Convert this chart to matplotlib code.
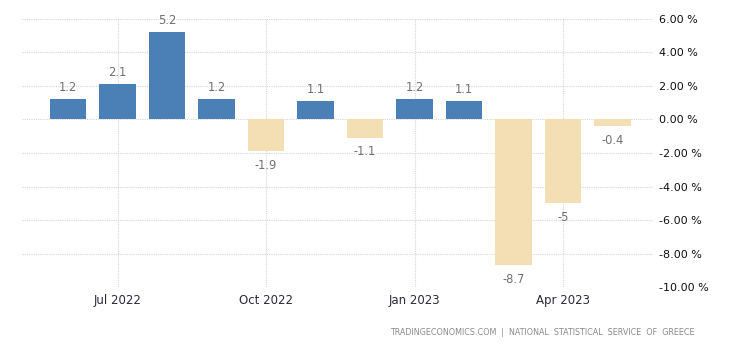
import numpy as np
import matplotlib
matplotlib.use('Agg')
import matplotlib.pyplot as plt

meses = ['Jun 2022', 'Jul 2022', 'Aug 2022', 'Sep 2022', 'Oct 2022', 'Nov 2022',
         'Dec 2022', 'Jan 2023', 'Feb 2023', 'Mar 2023', 'Apr 2023', 'May 2023']
valores = [1.2, 2.1, 5.2, 1.2, -1.9, 1.1, -1.1, 1.2, 1.1, -8.7, -5, -0.4]
rotulos_x = ['Jul 2022', 'Oct 2022', 'Jan 2023', 'Apr 2023']
ticks_y = [6, 4, 2, 0, -2, -4, -6, -8, -10]

cor_positivo = '#4a80b5'
cor_negativo = '#f4dfb4'

plt.rcParams['font.family'] = ['DejaVu Sans']

fig = plt.figure(figsize=(7.4, 3.45), dpi=100)
ax = fig.add_axes([0.0297, 0.168, 0.853, 0.777])

posicoes = np.arange(len(valores))
cores = [cor_positivo if v >= 0 else cor_negativo for v in valores]
ax.bar(posicoes, valores, width=0.74, color=cores, zorder=3)

# rotulo de valor acima (positivos) ou abaixo (negativos) de cada barra
for x, v in zip(posicoes, valores):
    texto = f'{v:g}'
    if v >= 0:
        ax.text(x, v + 0.3, texto, ha='center', va='bottom', fontsize=8.3, color='#707070')
    else:
        ax.text(x, v - 0.45, texto, ha='center', va='top', fontsize=8.3, color='#707070')

ax.set_xlim(-0.93, 11.82)
ax.set_ylim(-10, 6)

ax.set_xticks([posicoes[meses.index(r)] for r in rotulos_x])
ax.set_xticklabels(rotulos_x, fontsize=8.5, color='#2a2a3a')
ax.set_yticks(ticks_y)
ax.set_yticklabels([f'{t:.2f} %' for t in ticks_y], fontsize=8, color='#111111')
ax.yaxis.tick_right()
ax.tick_params(axis='both', length=0)
ax.tick_params(axis='y', pad=4)
ax.tick_params(axis='x', pad=5)

ax.grid(True, axis='both', linestyle=(0, (1, 1)), color='#d6d6d6', linewidth=0.8, zorder=0)
for lado in ax.spines.values():
    lado.set_visible(False)

fig.text(0.938, 0.035, 'TRADINGECONOMICS.COM  |  NATIONAL  STATISTICAL  SERVICE  OF  GREECE',
         ha='right', va='center', fontsize=5.8, color='#8a8a8a')

fig.savefig('out.png', dpi=100)
plt.close(fig)
